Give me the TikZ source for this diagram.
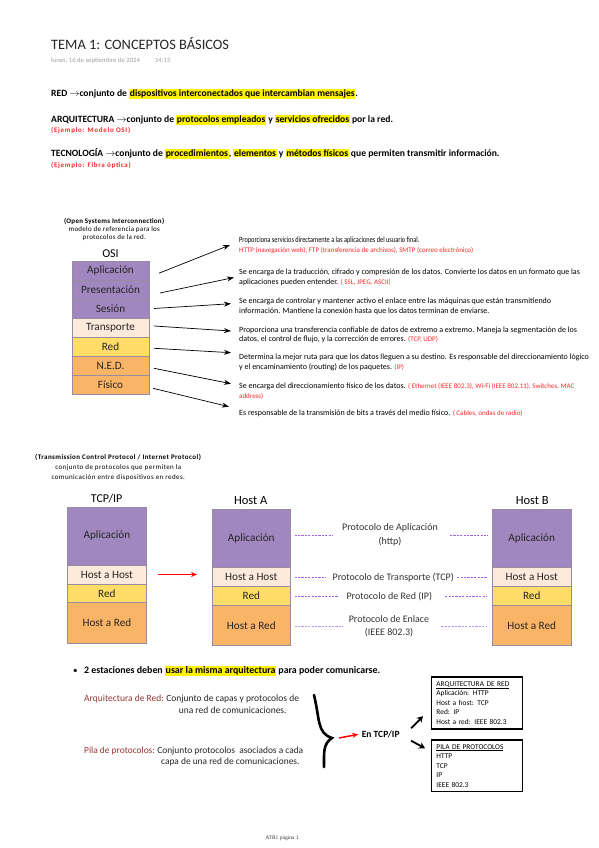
\documentclass[tikz,border=0pt]{standalone}
\usepackage{fontspec}
\setmainfont{Carlito}
\newfontfamily\pie{Liberation Serif}
\usepackage{graphicx}
\usetikzlibrary{positioning, arrows.meta, calc}
\definecolor{capaMorada}{RGB}{161,135,191}
\definecolor{capaCrema}{RGB}{253,234,218}
\definecolor{capaAmarilla}{RGB}{255,221,102}
\definecolor{capaNaranja}{RGB}{250,180,102}
\definecolor{bordeCapa}{RGB}{150,140,160}
\definecolor{rojoEj}{RGB}{250,40,40}
\definecolor{granate}{RGB}{150,55,52}
\definecolor{lineaMorada}{RGB}{165,95,235}
\definecolor{lineaLila}{RGB}{185,150,235}
\definecolor{gris}{RGB}{160,160,160}
\newcommand{\resaltar}[1]{{\setlength{\fboxsep}{0.7pt}\colorbox{yellow}{#1}}}
\newcommand{\tam}[2]{\fontsize{#1}{#2}\selectfont}
\newcommand{\rojo}[1]{{\tam{7}{9.7}\textcolor{rojoEj}{#1}}}
\newcommand{\espaciado}[1]{\addfontfeatures{LetterSpace=#1}}
\tikzset{
  linea/.style={anchor=base west, inner sep=0pt, font=\bfseries\tam{9.6}{11}},
  ejemplo/.style={anchor=base west, inner sep=0pt, text=rojoEj, font=\bfseries\tam{7}{8}\espaciado{10}},
  capa/.style={draw=bordeCapa, line width=0.5pt, outer sep=0pt, inner sep=0pt, text=black!85, font=\tam{11.2}{13}},
  desc/.style={anchor=west, align=left, inner sep=0pt, font=\tam{8}{9.7}},
  proto/.style={align=center, inner sep=0pt, text=black!80, font=\tam{10}{13.4}},
  caja/.style={draw, line width=1.5pt, align=left, text width=81pt, inner xsep=5pt, font=\tam{7.4}{9.5}},
  flecha/.style={-{Stealth[length=7pt,width=5pt]}, line width=0.7pt},
  flechaRoja/.style={-{Stealth[length=6pt,width=5pt]}, line width=1.5pt, draw=red},
  flechaNegra/.style={-{Stealth[length=6pt,width=7pt]}, line width=1.8pt},
  trazo/.style={draw=lineaMorada, dash pattern=on 2.2pt off 1.2pt, line width=0.9pt},
  llave/.style={line width=2.6pt, line cap=round}
}

\begin{document}
\begin{tikzpicture}[x=1pt, y=-1pt]
\fill[white] (0,0) rectangle (599,848);
\useasboundingbox (0,0) rectangle (599,848);
% encabezado
\node[anchor=base west, inner sep=0pt, text=black!85, font=\tam{14.4}{17}] (titulo) at (51,50) {TEMA 1: CONCEPTOS BÁSICOS};
\node[anchor=base west, inner sep=0pt, text=gris, font=\tam{6.7}{8}] (fecha) at (51,62.3) {lunes, 16 de septiembre de 2024\hspace{15pt}14:15};
% definiciones
\node[linea] (red) at (51,96.7) {RED $\rightarrow$conjunto de \resaltar{dispositivos interconectados que intercambian mensajes}.};
\node[linea] (arq) at (51,122.7) {ARQUITECTURA $\rightarrow$conjunto de \resaltar{protocolos empleados} y \resaltar{servicios ofrecidos} por la red.};
\node[ejemplo] (ejArq) at (51,132.3) {(Ejemplo: Modelo OSI)};
\node[linea] (tec) at (51,156.7) {TECNOLOGÍA $\rightarrow$conjunto de \resaltar{procedimientos}, \resaltar{elementos} y \resaltar{métodos físicos} que permiten transmitir información.};
\node[ejemplo] (ejTec) at (51,167.7) {(Ejemplo: Fibra óptica)};

% modelo OSI
\node[align=center, inner sep=0pt, font=\tam{7}{8}\espaciado{4}] (osiTxt) at (114.3,229) {\textbf{(Open Systems Interconnection)}\\modelo de referencia para los\\protocolos de la red.};
\node[font=\tam{12}{14}] (osiTit) at (110.5,253.3) {OSI};
\node[capa, fill=capaMorada, minimum width=77pt, minimum height=19pt] (osiA) at (110.5,270.5) {Aplicación};
\node[capa, fill=capaMorada, minimum width=77pt, minimum height=19pt, below=0pt of osiA] (osiB) {Presentación};
\node[capa, fill=capaMorada, minimum width=77pt, minimum height=19pt, below=0pt of osiB] (osiC) {Sesión};
\node[capa, fill=capaCrema, minimum width=77pt, minimum height=19pt, below=0pt of osiC] (osiD) {Transporte};
\node[capa, fill=capaAmarilla, minimum width=77pt, minimum height=19pt, below=0pt of osiD] (osiE) {Red};
\node[capa, fill=capaNaranja, minimum width=77pt, minimum height=19pt, below=0pt of osiE] (osiF) {N.E.D.};
\node[capa, fill=capaNaranja, minimum width=77pt, minimum height=19pt, below=0pt of osiF] (osiG) {Físico};

% descripciones de cada capa
\node[desc] (d1) at (239,245) {\scalebox{0.79}[1]{Proporciona servicios directamente a las aplicaciones del usuario final.}\\\rojo{HTTP (navegación web), FTP (transferencia de archivos), SMTP (correo electrónico)}};
\node[desc] (d2) at (239,277.5) {Se encarga de la traducción, cifrado y compresión de los datos. Convierte los datos en un formato que las\\aplicaciones pueden entender. \rojo{( SSL, JPEG, ASCII)}};
\node[desc] (d3) at (239,306.3) {Se encarga de controlar y mantener activo el enlace entre las máquinas que están transmitiendo\\información. Mantiene la conexión hasta que los datos terminan de enviarse.};
\node[desc] (d4) at (239,335) {Proporciona una transferencia confiable de datos de extremo a extremo. Maneja la segmentación de los\\datos, el control de flujo, y la corrección de errores. \rojo{(TCP, UDP)}};
\node[desc] (d5) at (239,362.7) {Determina la mejor ruta para que los datos lleguen a su destino. Es responsable del direccionamiento lógico\\y el encaminamiento (routing) de los paquetes. \rojo{(IP)}};
\node[desc] (d6) at (239,391) {Se encarga del direccionamiento físico de los datos. \rojo{( Ethernet (IEEE 802.3), Wi-Fi (IEEE 802.11), Switches, MAC}\\\rojo{address)}};
\node[desc] (d7) at (239,413) {Es responsable de la transmisión de bits a través del medio físico. \rojo{( Cables, ondas de radio)}};

\foreach \capa/\d/\xa/\ya/\xb/\yb in {osiA/d1/10/-2.7/-9/0, osiB/d2/11/-3.5/-5/0, osiC/d3/5/0/-8/2.6, osiD/d4/5/1.5/-8/4, osiE/d5/5/-1.8/-8/10, osiF/d6/5/-2.8/-8/7.3, osiG/d7/4/-3.8/-10/6.3}{
  \draw[flecha] ([xshift=\xa pt, yshift=\ya pt]\capa.east) -- ([xshift=\xb pt, yshift=\yb pt]\d.west);
}

% modelo TCP/IP
\node[align=center, inner sep=0pt, font=\tam{7}{10}\espaciado{6}] (tcpTxt) at (118.3,467) {\textbf{(Transmission Control Protocol / Internet Protocol)}\\conjunto de protocolos que permiten la\\comunicación entre dispositivos en redes.};
\node[font=\tam{12}{14}] (tcpTit) at (106.7,498.3) {TCP/IP};
\node[font=\tam{12.5}{14}] (hostAtit) at (250.7,500.7) {Host A};
\node[font=\tam{12.5}{14}] (hostBtit) at (532.3,500.7) {Host B};

\foreach \pila/\cx/\ty in {tcp/106.9/507, hostA/251.3/509.5, hostB/531.7/509.5}{
  \node[capa, fill=capaMorada, minimum width=78.5pt, minimum height=58pt, anchor=north] (\pila-app) at (\cx,\ty) {Aplicación};
  \node[capa, fill=capaCrema, minimum width=78.5pt, minimum height=19pt, below=0pt of \pila-app] (\pila-hh) {Host a Host};
  \node[capa, fill=capaAmarilla, minimum width=78.5pt, minimum height=18.5pt, below=0pt of \pila-hh] (\pila-red) {Red};
  \node[capa, fill=capaNaranja, minimum width=78.5pt, minimum height=40.5pt, below=0pt of \pila-red] (\pila-hr) {Host a Red};
}

\draw[flechaRoja] ([xshift=12pt]tcp-hh.east) -- ([xshift=-15pt]tcp-hh.east -| hostA-hh.west);

% protocolos entre host A y host B
\node[proto] (p1) at (390,535) {Protocolo de Aplicación\\(http)};
\node[proto] (p2) at (393.3,577.3) {Protocolo de Transporte (TCP)};
\node[proto] (p3) at (389.3,596.7) {Protocolo de Red (IP)};
\node[proto] (p4) at (389,626.3) {Protocolo de Enlace\\(IEEE 802.3)};

\draw[trazo] ([xshift=4pt]hostA-app.east |- p1.west) -- ([xshift=-9pt]p1.west);
\draw[trazo] ([xshift=12pt]p1.east) -- ([xshift=-5pt]hostB-app.west |- p1.east);
\draw[trazo] ([xshift=4pt]hostA-hh.east |- p2.west) -- ([xshift=-6pt]p2.west);
\draw[trazo] ([xshift=3pt]p2.east) -- ([xshift=-5pt]hostB-hh.west |- p2.east);
\draw[trazo] ([xshift=4pt]hostA-red.east |- p3.west) -- ([xshift=-8pt]p3.west);
\draw[trazo] ([xshift=13pt]p3.east) -- ([xshift=-5pt]hostB-red.west |- p3.east);
\draw[trazo, draw=lineaLila] ([xshift=4pt]hostA-hr.east |- p4.west) -- ([xshift=-6pt]p4.west);
\draw[trazo, draw=lineaLila] ([xshift=12pt]p4.east) -- ([xshift=-5pt]hostB-hr.west |- p4.east);

% arquitectura y pila
\node[anchor=base west, inner sep=0pt, font=\tam{9}{11}] (vineta) at (73,673.3) {\textbullet};
\node[linea, font=\bfseries\tam{9.9}{11}] (dosEst) at (84,673.3) {2 estaciones deben \resaltar{usar la misma arquitectura} para poder comunicarse.};

\node[anchor=base west, inner sep=0pt, text=granate, font=\tam{9.5}{11.6}] (arqRed) at (84,701.7) {Arquitectura de Red:};
\node[anchor=north west, inner sep=0pt, align=center, text=black!85, font=\tam{9.5}{11.6}] (arqDef) at ([xshift=2pt]arqRed.north east) {Conjunto de capas y protocolos de\\una red de comunicaciones.};
\node[anchor=base west, inner sep=0pt, text=granate, font=\tam{9.4}{11.6}] (pilaProt) at (84,753.3) {Pila de protocolos:};
\node[anchor=north west, inner sep=0pt, align=center, text=black!85, font=\tam{9.4}{11.6}] (pilaDef) at ([xshift=2pt]pilaProt.north east) {Conjunto protocolos \ asociados a cada\\capa de una red de comunicaciones.};

\draw[llave] (314,695) .. controls (320,720) and (317,733) .. (332,738) coordinate (punta) .. controls (323,744) and (324,752) .. (324,767);

\node[font=\bfseries\tam{9.5}{11}] (enTcp) at (380.7,734.3) {En TCP/IP};
\draw[flechaRoja] ([xshift=7pt]punta) -- (enTcp.west);

\node[caja, anchor=north west, minimum height=52pt] (cajaArq) at (430.7,676) {\underline{ARQUITECTURA DE RED}\\Aplicación: HTTP\\Host a host: TCP\\Red: IP\\Host a red: IEEE 802.3};
\node[caja, anchor=north west, minimum height=51.4pt] (cajaPila) at (430.7,739.3) {\underline{PILA DE PROTOCOLOS}\\HTTP\\TCP\\IP\\IEEE 802.3};

\draw[flechaNegra] ([xshift=8pt, yshift=6pt]enTcp.east) -- ([xshift=-7.7pt, yshift=13.3pt]cajaArq.south west);
\draw[flechaNegra] ([xshift=8pt, yshift=-6.4pt]enTcp.east) -- ([xshift=-5.7pt, yshift=-9pt]cajaPila.north west);

% pie de pagina
\node[text=black!80, font=\pie\tam{5.5}{7}] (pie) at (282,838) {ATR1 página 1};
\end{tikzpicture}
\end{document}
